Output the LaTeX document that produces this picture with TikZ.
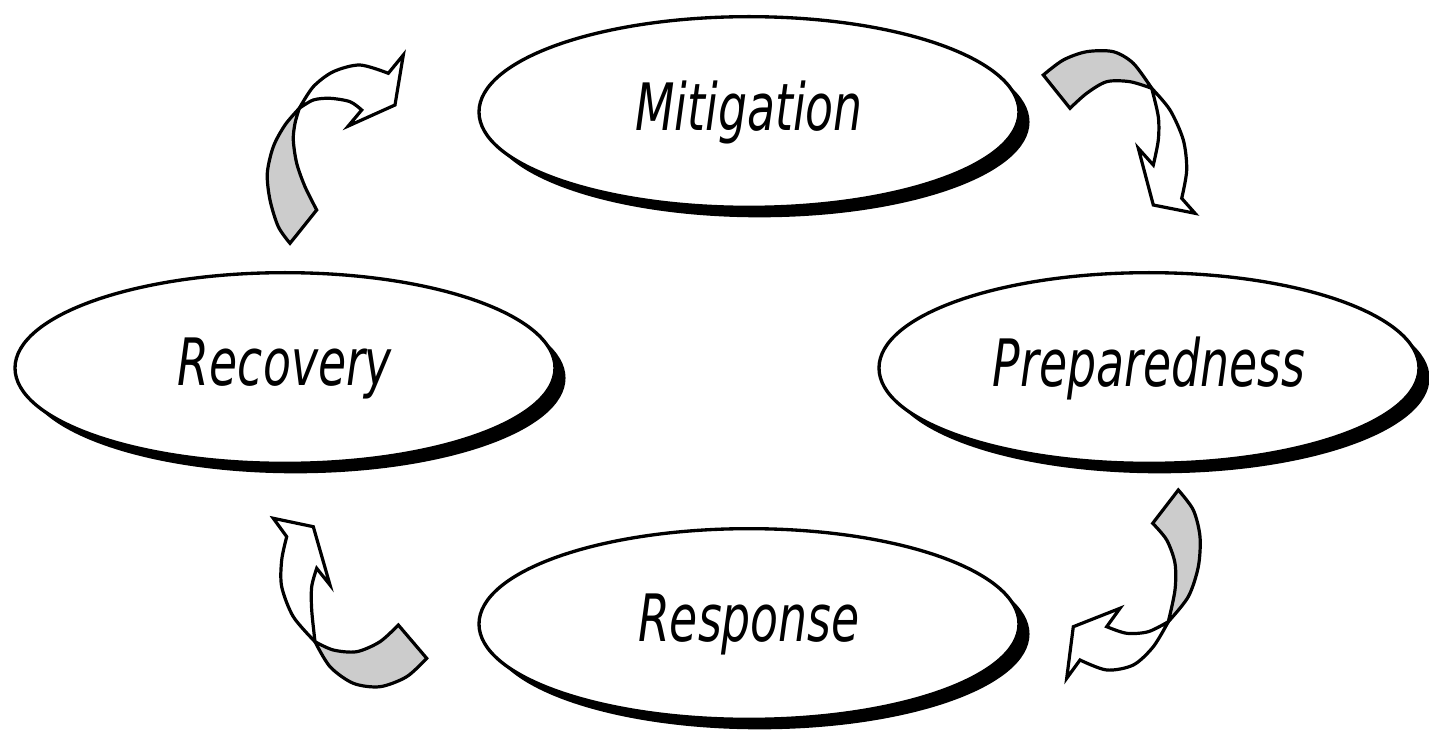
\documentclass[tikz,border=0pt]{standalone}
\usepackage{fontspec}
\usepackage{tikz}
\usetikzlibrary{shapes.geometric,shadows}
\newfontfamily\phasefont[FakeStretch=0.7]{DejaVu Sans}
\pgfmathsetmacro{\phasewidth}{405}
\pgfmathsetmacro{\phaseheight}{143}
\tikzset{
  phase/.style={ellipse, draw, line width=2.5pt, fill=white,
    minimum width=\phasewidth pt, minimum height=\phaseheight pt, inner sep=0pt,
    general shadow={fill=black, shadow xshift=7.9pt, shadow yshift=-7.5pt},
    font=\phasefont\itshape\fontsize{49}{56}\selectfont},
  backface/.style={fill=black!20, draw, line width=2.4pt},
  frontface/.style={fill=white, draw, line width=2.4pt}
}

\begin{document}
\begin{tikzpicture}[x=0.75pt, y=-0.75pt]
    \useasboundingbox (0,0) rectangle (1429,734);
    % phases of the cycle
    \node[phase] (mitigation) at (749,112) {Mitigation};
    \node[phase] (recovery) at (285,368) {Recovery};
    \node[phase] (preparedness) at (1149,368) {Preparedness};
    \node[phase] (response) at (749,624) {Response};
    % recovery to mitigation
    \filldraw[backface] plot[smooth] coordinates {(299.3,108.3) (285,125) (273.3,146.7) (267.3,173.3) (270,200) (278.3,226.7) (290,243.3)}
        -- plot[smooth] coordinates {(316.7,210) (305,186.7) (296.7,163.3) (293.3,140) (295,123.3) (299.3,108.3)} -- cycle;
    \filldraw[frontface] plot[smooth] coordinates {(299.3,108.3) (313.3,86.7) (333.3,71.7) (360,65) (388.3,73.3)}
        -- (403.3,55) -- (395,105) -- (348.3,126) -- (361.7,110)
        -- plot[smooth] coordinates {(361.7,110) (350,101.7) (330,98.3) (313.3,100) (299.3,108.3)} -- cycle;
    % mitigation to preparedness
    \filldraw[backface] plot[smooth] coordinates {(1151.7,88.3) (1133.3,63.3) (1113.3,51.7) (1086.7,51.7) (1063.3,60) (1043.3,75)}
        -- plot[smooth] coordinates {(1070,108.3) (1086.7,93.3) (1106.7,81.7) (1130,81.7) (1151.7,88.3)} -- cycle;
    \filldraw[frontface] plot[smooth] coordinates {(1151.7,88.3) (1170,110) (1183.3,140) (1186.7,170) (1181.7,198.3)}
        -- (1195,213.3) -- (1153.3,205) -- (1138.3,148.3) -- (1153.3,165)
        -- plot[smooth] coordinates {(1153.3,165) (1158.3,140) (1158.3,116.7) (1151.7,88.3)} -- cycle;
    % preparedness to response
    \filldraw[backface] plot[smooth] coordinates {(1168.3,621.7) (1188.3,596.7) (1198.3,566.7) (1200,536.7) (1193.3,510) (1178.3,490)}
        -- plot[smooth] coordinates {(1152.7,523.3) (1166.7,540) (1175,563.3) (1175,590) (1168.3,621.7)} -- cycle;
    \filldraw[frontface] plot[smooth] coordinates {(1168.3,621.7) (1153.3,646.7) (1133.3,665) (1106.7,670) (1080,660)}
        -- (1066.7,678.3) -- (1073.3,626.7) -- (1120,608.3) -- (1106.7,626.7)
        -- plot[smooth] coordinates {(1106.7,626.7) (1126.7,633.3) (1148.3,631.7) (1168.3,621.7)} -- cycle;
    % response to recovery
    \filldraw[backface] plot[smooth] coordinates {(315,641.7) (333.3,650) (356.7,651.7) (380,641.7) (398.3,625)}
        -- plot[smooth] coordinates {(426.7,658.3) (406.7,676.7) (380,686.7) (353.3,683.3) (330,666.7) (315,641.7)} -- cycle;
    \filldraw[frontface] plot[smooth] coordinates {(315,641.7) (293.3,616.7) (281.7,586.7) (281.7,560) (286.7,536.7)}
        -- (273.3,518.3) -- (313.3,526.7) -- (330,585) -- (316.7,568.3)
        -- plot[smooth] coordinates {(316.7,568.3) (311.7,586.7) (311.7,610) (315,641.7)} -- cycle;
\end{tikzpicture}
\end{document}
